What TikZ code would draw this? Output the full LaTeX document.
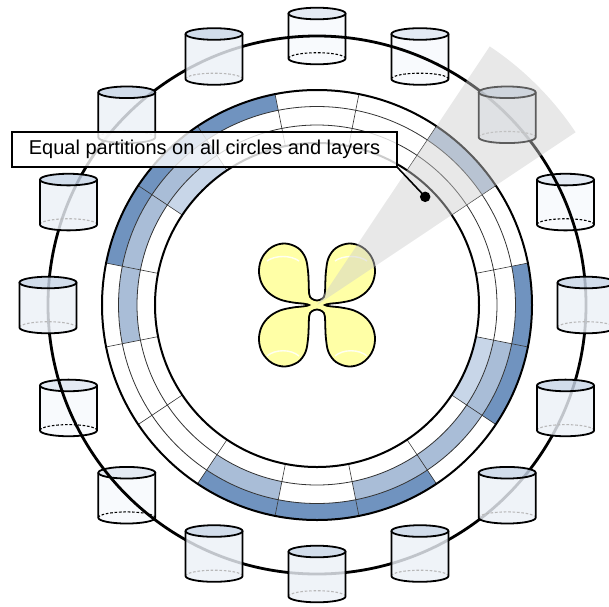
\documentclass[tikz,border=0pt]{standalone}
\usepackage{fontspec}
\setmainfont{Liberation Sans}
\definecolor{Ink}{HTML}{333333}
\definecolor{RingDark}{HTML}{7093BF}
\definecolor{RingMid}{HTML}{A9BDD7}
\definecolor{RingLight}{HTML}{C8D6E8}
\definecolor{PetalFill}{HTML}{FFFFA6}
\definecolor{DiskBody}{HTML}{EBF0F7}
\definecolor{DiskTop}{HTML}{C8D5E7}
\definecolor{NearBody}{HTML}{F8FAFD}
\definecolor{NearTop}{HTML}{E4EAF3}
\definecolor{DashGrey}{HTML}{B8B8B8}
\definecolor{BeamGrey}{HTML}{CCCCCC}
\tikzset{
  ring/.style={draw=black, line width=2.8pt},
  layerline/.style={draw=Ink, line width=0.8pt},
  ringedge/.style={draw=black, line width=2pt},
  cut/.style={draw=Ink, line width=0.6pt},
  lobe/.style={draw=black, line width=1.8pt, fill=PetalFill},
  gloss/.style={draw=white, line width=1.4pt, opacity=0.85},
  beam/.style={fill=BeamGrey, fill opacity=0.45},
  note/.style={draw=black, line width=1.2pt, fill=white, fill opacity=0.8, text opacity=1,
    font=\fontsize{20}{24}\selectfont, minimum width=385pt, minimum height=35pt, inner sep=0pt},
  spot/.style={circle, fill=black, minimum size=10.5pt, inner sep=0pt},
  pointer/.style={draw=black, line width=1.6pt},
  % storage drum: body fill, lid fill, fill opacity, colour of the hidden rim
  pics/store/.style n args={4}{code={
    \path[fill=#1, fill opacity=#3] (-28.5,22.5) -- (-28.5,-22.5)
      arc[start angle=180, end angle=360, x radius=28.5pt, y radius=5.8pt] -- (28.5,22.5)
      arc[start angle=360, end angle=180, x radius=28.5pt, y radius=5.8pt] -- cycle;
    \draw[draw=#4, line width=1.1pt, dash pattern=on 2.6pt off 1.8pt] (28.5,-22.5)
      arc[start angle=0, end angle=180, x radius=28.5pt, y radius=5.8pt];
    \draw[line width=1.8pt] (-28.5,22.5) -- (-28.5,-22.5)
      arc[start angle=180, end angle=360, x radius=28.5pt, y radius=5.8pt] -- (28.5,22.5);
    \draw[line width=1.8pt, fill=#2, fill opacity=#3] (0,22.5) ellipse[x radius=28.5pt, y radius=5.8pt];
  }},
}
% one cell of the ring: sector, inner radius, outer radius, colour
\newcommand{\ringcell}[4]{%
  \fill[#4] ({22.5*#1-11.25}:#2pt) arc[start angle={22.5*#1-11.25}, end angle={22.5*#1+11.25}, radius=#2pt]
    -- ({22.5*#1+11.25}:#3pt) arc[start angle={22.5*#1+11.25}, end angle={22.5*#1-11.25}, radius=#3pt] -- cycle;}

\begin{document}
\begin{tikzpicture}[x=1pt, y=1pt]
  \useasboundingbox (-317,-301) rectangle (292,305);

  % drums the ring runs in front of
  \foreach \a in {22.5,67.5,90,202.5,225}
    \pic at (\a:269pt) {store={NearBody}{NearTop}{1}{black}};
  \draw[ring] (0,0) circle[radius=269pt];
  % drums the ring runs behind
  \foreach \a in {0,45,112.5,135,157.5,180,247.5,270,292.5,315,337.5}
    \pic at (\a:269pt) {store={DiskBody}{DiskTop}{0.82}{DashGrey}};

  % partition ring, three layers
  \foreach \s/\c in {0/RingDark,2/RingMid,5/RingDark,6/RingDark,7/RingDark,11/RingDark,12/RingDark,13/RingDark,15/RingDark}
    \ringcell{\s}{198.5}{215}{\c};
  \foreach \s/\c in {6/RingMid,7/RingMid,8/RingMid,11/RingMid,13/RingMid,14/RingMid,15/RingMid}
    \ringcell{\s}{180}{198.5}{\c};
  \foreach \s/\c in {6/RingLight,15/RingLight}
    \ringcell{\s}{162}{180}{\c};
  \draw[layerline] (0,0) circle[radius=180pt];
  \draw[layerline] (0,0) circle[radius=198.5pt];
  \foreach \k in {0,...,15}
    \draw[cut] ({22.5*\k+11.25}:162pt) -- ({22.5*\k+11.25}:215pt);
  \draw[ringedge] (0,0) circle[radius=162pt];
  \draw[ringedge] (0,0) circle[radius=215pt];

  % four-lobed body in the middle
  \draw[lobe] plot[smooth cycle, tension=0.6] coordinates {
    (0,4.5) (5.5,6.5) (7.8,11) (8.3,22) (9,34) (11.5,47) (19,57) (32,61.5) (45,58) (54.5,48)
    (58,35) (55.5,22) (48,12) (37,5.5) (24,2.5) (13,1.3) (8,0)
    (13,-1.3) (24,-2.5) (37,-5.5) (48,-12) (55.5,-22) (58,-35) (54.5,-48) (45,-58) (32,-61.5)
    (19,-57) (11.5,-47) (9,-34) (8.3,-22) (7.8,-11) (5.5,-6.5) (0,-4.5)
    (-5.5,-6.5) (-7.8,-11) (-8.3,-22) (-9,-34) (-11.5,-47) (-19,-57) (-32,-61.5) (-45,-58)
    (-54.5,-48) (-58,-35) (-55.5,-22) (-48,-12) (-37,-5.5) (-24,-2.5) (-13,-1.3) (-8,0)
    (-13,1.3) (-24,2.5) (-37,5.5) (-48,12) (-55.5,22) (-58,35) (-54.5,48) (-45,58) (-32,61.5)
    (-19,57) (-11.5,47) (-9,34) (-8.3,22) (-7.8,11) (-5.5,6.5)};
  \foreach \sx in {-1,1} {
    \draw[gloss] (\sx*50,44) .. controls (\sx*42,50) and (\sx*26,50) .. (\sx*18,44);
    \draw[gloss] (\sx*50,-51) .. controls (\sx*42,-44) and (\sx*26,-44) .. (\sx*18,-51);
  }

  % highlighted sector
  \fill[beam] (0,0) -- (33.75:311pt) arc[start angle=33.75, end angle=56.25, radius=311pt] -- cycle;

  % caption with its pointer
  \node[note] (note) at (-112.5,155.5) {Equal partitions on all circles and layers};
  \node[spot] (spot) at (45:153pt) {};
  \draw[pointer] (note.south east) -- (spot.center);
\end{tikzpicture}
\end{document}
